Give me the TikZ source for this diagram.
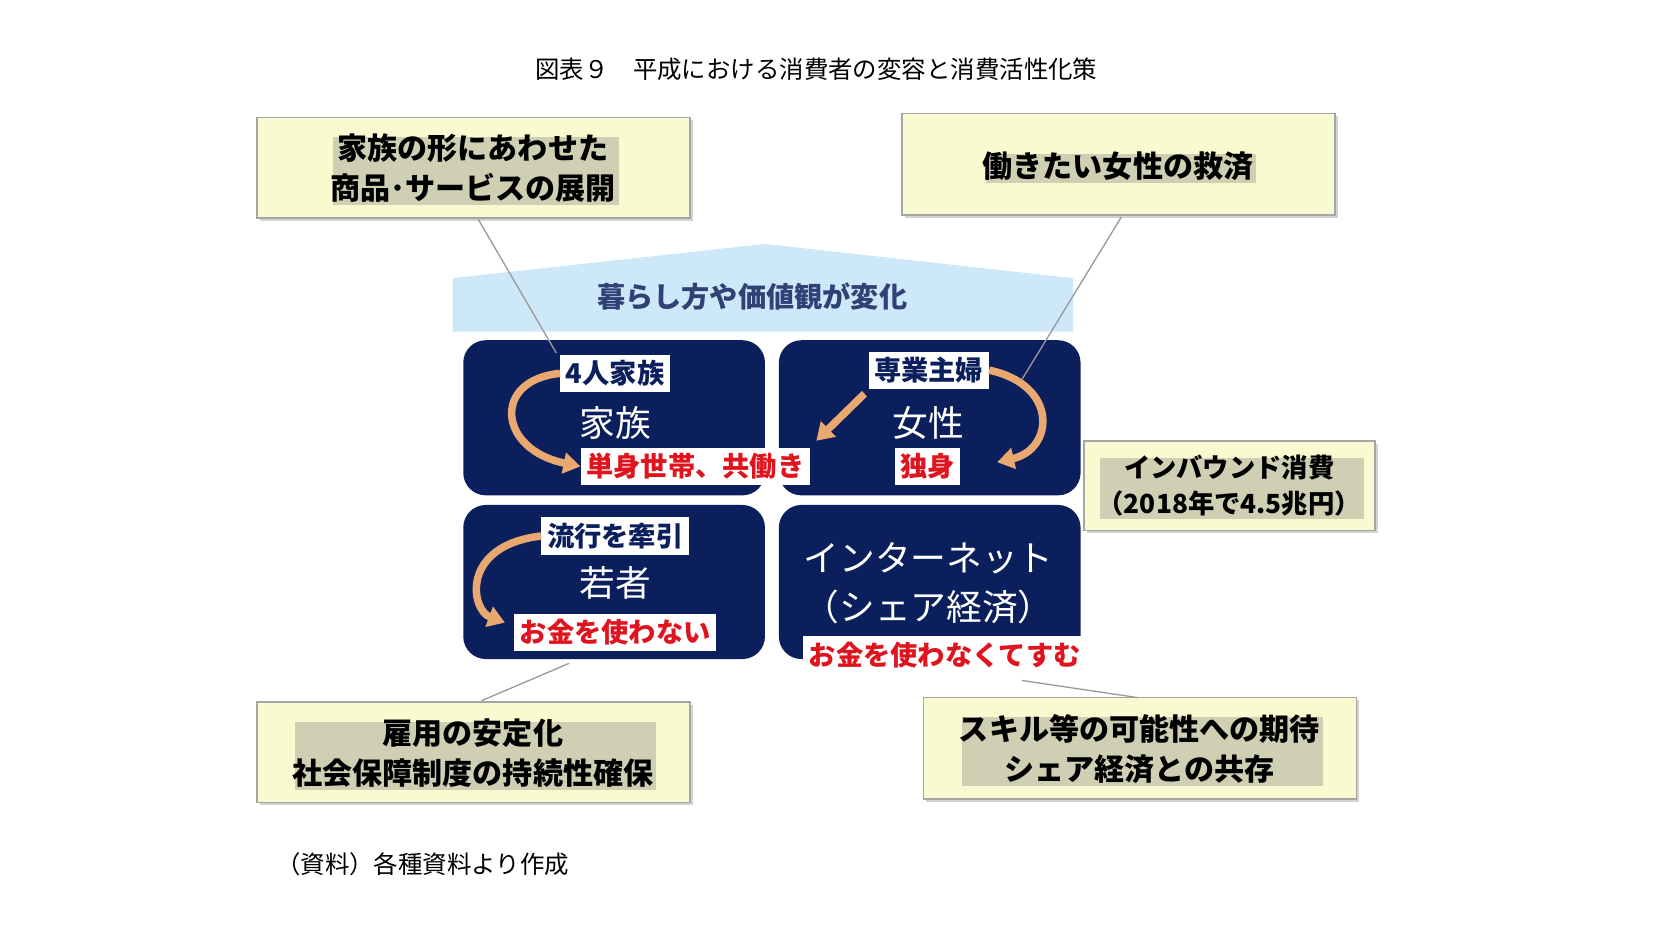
\documentclass[tikz,border=0pt]{standalone}
\usepackage{fontspec}
\setmainfont{Noto Sans CJK JP}
\newfontfamily\jpb{Noto Sans CJK JP}[BoldFont={Noto Sans CJK JP Bold}]
\usetikzlibrary{shadows,arrows.meta}
\definecolor{navy}{HTML}{0B1F5C}
\definecolor{ylw}{HTML}{FAFAD0}
\definecolor{lblue}{HTML}{CDE8F8}
\definecolor{org}{HTML}{E8A870}
\definecolor{rd}{HTML}{E0141E}
\tikzset{
 x=0.02cm,y=-0.02cm,
 ybox/.style={draw=gray!70,fill=ylw,line width=0.8pt,drop shadow={opacity=0.35,shadow xshift=1.5pt,shadow yshift=-1.5pt},font=\fontsize{16}{21}\selectfont\bfseries,align=center,inner sep=0},
 nbox/.style={fill=navy,rounded corners=12pt},
 wlab/.style={fill=white,font=\fontsize{14.5}{17}\selectfont\bfseries,text=navy,inner sep=3pt},
 rlab/.style={wlab,text=rd},
 big/.style={text=white,font=\fontsize{19}{22}\selectfont},
 oarr/.style={draw=org,line width=4pt,-{Triangle[length=9pt,width=11pt]}},
 gl/.style={draw=gray!80,line width=0.7pt}
}
\begin{document}
\begin{tikzpicture}
\useasboundingbox (0,0) rectangle (1560,864);
\node[font=\fontsize{13}{15}\selectfont] (title) at (763,65) {図表９\quad 平成における消費者の変容と消費活性化策};
% yellow boxes
\path[ybox] (240,110) rectangle (645,204); \node[ybox,draw=none,fill=none,drop shadow={opacity=0}] (y1) at (442,157) {家族の形にあわせた\\商品･サービスの展開};
\path[ybox] (843,106) rectangle (1248,201); \node[ybox,draw=none,fill=none,drop shadow={opacity=0}] (y2) at (1045,155) {働きたい女性の救済};
\path[ybox] (240,656) rectangle (645,750); \node[ybox,draw=none,fill=none,drop shadow={opacity=0}] (y3) at (442,704) {雇用の安定化\\社会保障制度の持続性確保};
\path[ybox] (863,652) rectangle (1268,747); \node[ybox,draw=none,fill=none,drop shadow={opacity=0}] (y4) at (1065,700) {スキル等の可能性への期待\\シェア経済との共存};
\path[ybox] (1013,412) rectangle (1285,496); \node[ybox,draw=none,fill=none,drop shadow={opacity=0},font=\fontsize{14}{19}\selectfont\bfseries] (y5) at (1149,454) {インバウンド消費\\（2018年で4.5兆円）};
% roof
\fill[lblue] (423,260) -- (715,228) -- (1003,260) -- (1003,310) -- (423,310) -- cycle;
\node[text=navy!85,font=\fontsize{15}{18}\selectfont\bfseries] (roof) at (703,277) {暮らし方や価値観が変化};
% navy boxes
\fill[nbox] (433,318) rectangle (715,463);
\fill[nbox] (728,318) rectangle (1010,463);
\fill[nbox] (433,472) rectangle (715,616);
\fill[nbox] (728,472) rectangle (1010,616);
\node[big] (kz) at (575,395) {家族};
\node[big] (js) at (868,395) {女性};
\node[big] (wk) at (575,545) {若者};
\node[big] (it) at (868,522) {インターネット};
\node[big] (se) at (868,567) {（シェア経済）};
% labels
\node[wlab] (l1) at (575,349) {4人家族};
\node[wlab] (l2) at (868,346) {専業主婦};
\node[rlab] (l3) at (650,436) {単身世帯、共働き};
\node[rlab] (l4) at (867,436) {独身};
\node[wlab] (l5) at (575,501) {流行を牽引};
\node[rlab] (l6) at (575,591) {お金を使わない};
\node[rlab] (l7) at (883,612) {お金を使わなくてすむ};
% arrows
\draw[oarr] (l1.west) .. controls (460,355) and (465,420) .. (l3.west);
\draw[oarr] (l2.east) .. controls (990,360) and (985,420) .. (932,432);
\draw[oarr] (808,368) -- (763,412);
\draw[oarr] (l5.west) .. controls (430,510) and (440,570) .. (472,582);
% grey lines
\draw[gl] (447,205) -- (520,330);
\draw[gl] (1048,203) -- (955,355);
\draw[gl] (532,620) -- (450,655);
\draw[gl] (955,636) -- (1063,652);
\node[font=\fontsize{13}{15}\selectfont] (src) at (395,808) {（資料）各種資料より作成};
\end{tikzpicture}
\end{document}
